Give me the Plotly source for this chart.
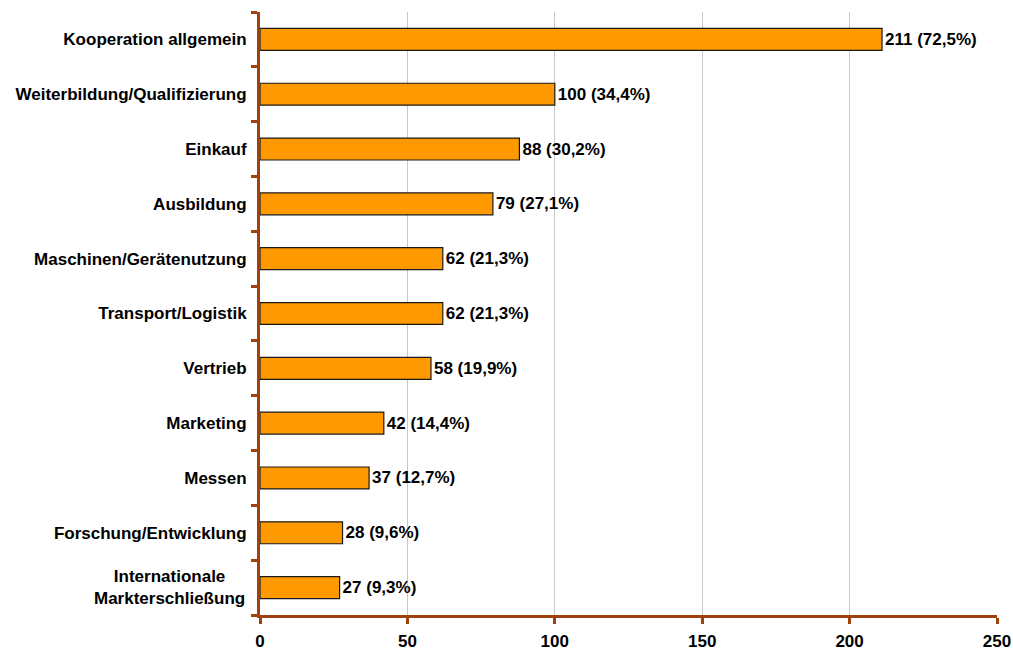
import plotly.graph_objects as go

categories = [
    "Kooperation allgemein",
    "Weiterbildung/Qualifizierung",
    "Einkauf",
    "Ausbildung",
    "Maschinen/Gerätenutzung",
    "Transport/Logistik",
    "Vertrieb",
    "Marketing",
    "Messen",
    "Forschung/Entwicklung",
    "Internationale<br>Markterschließung",
]
counts = [211, 100, 88, 79, 62, 62, 58, 42, 37, 28, 27]
percents = ["72,5", "34,4", "30,2", "27,1", "21,3", "21,3", "19,9", "14,4", "12,7", "9,6", "9,3"]

AXIS_COLOR = "#A0400A"
FONT = "Liberation Sans, Arial"
SIZE = 17

labels = [f"{c} ({p}%)" for c, p in zip(counts, percents)]

# the two-line label is centred, so it goes in as an annotation
ticktext = [c if "<br>" not in c else "" for c in categories]

fig = go.Figure()

fig.add_trace(
    go.Bar(
        x=counts,
        y=categories,
        orientation="h",
        width=0.4,
        text=labels,
        textposition="outside",
        textfont=dict(family=FONT, size=SIZE, color="black", weight="bold"),
        cliponaxis=False,
        marker=dict(
            color="#FF9900",
            line=dict(color="#1a1a1a", width=1.2),
        ),
        hoverinfo="skip",
    )
)

for c in categories:
    if "<br>" in c:
        fig.add_annotation(
            x=0,
            xref="paper",
            y=c,
            yref="y",
            text=c,
            showarrow=False,
            xanchor="right",
            align="center",
            xshift=-13,
            font=dict(family=FONT, size=SIZE, color="black", weight="bold"),
        )

fig.update_layout(
    width=1013,
    height=650,
    margin=dict(l=260, r=16, t=12, b=35),
    plot_bgcolor="white",
    paper_bgcolor="white",
    showlegend=False,
    font=dict(family=FONT, size=SIZE, color="black"),
    xaxis=dict(
        range=[0, 250],
        dtick=50,
        automargin=False,
        ticklabeloverflow="allow",
        showgrid=True,
        gridcolor="#C8C8C8",
        gridwidth=1,
        zeroline=False,
        showline=True,
        linecolor=AXIS_COLOR,
        linewidth=3,
        ticks="outside",
        ticklen=6,
        tickwidth=3,
        tickcolor=AXIS_COLOR,
        ticklabelstandoff=3,
        tickfont=dict(family=FONT, size=SIZE, color="black", weight="bold"),
    ),
    yaxis=dict(
        autorange="reversed",
        automargin=False,
        tickmode="array",
        tickvals=categories,
        ticktext=ticktext,
        showline=True,
        linecolor=AXIS_COLOR,
        linewidth=3,
        ticks="outside",
        tickson="boundaries",
        ticklen=6,
        tickwidth=3,
        tickcolor=AXIS_COLOR,
        ticklabelstandoff=7,
        showgrid=False,
        tickfont=dict(family=FONT, size=SIZE, color="black", weight="bold"),
    ),
)

# drop the default body margin so the figure sits flush in the window
fig.write_html(
    "out.html",
    config={"displayModeBar": False},
    post_script="document.body.style.margin='0';",
)
